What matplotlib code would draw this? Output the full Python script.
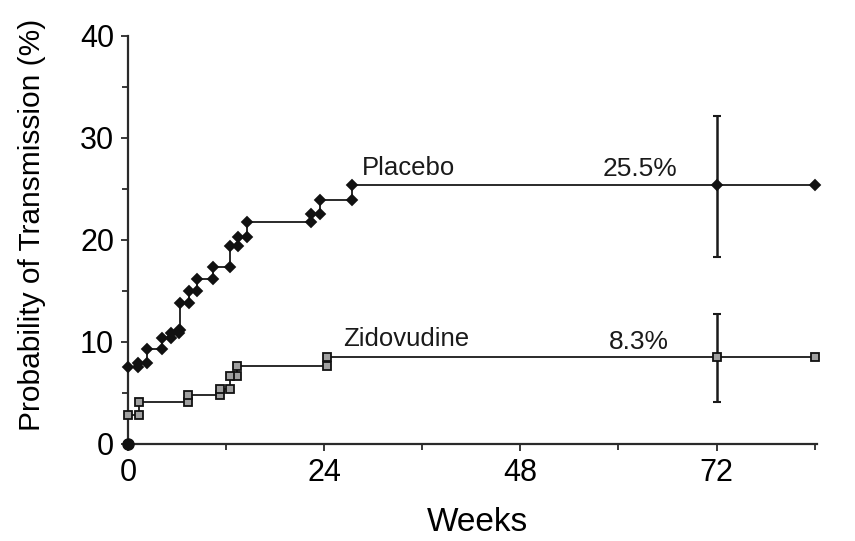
import matplotlib
matplotlib.use("Agg")
import matplotlib.pyplot as plt
from matplotlib.ticker import MultipleLocator, FixedLocator

plt.rcParams["font.family"] = ["Liberation Sans", "DejaVu Sans"]

# event times (weeks) and cumulative probability (%) right after each event
placebo_weeks = [0, 1.2, 2.3, 4.2, 5.3, 6.2, 6.4, 7.5, 8.4, 10.4, 12.5, 13.4, 14.5, 22.4, 23.5, 27.4]
placebo_prob = [7.5, 7.9, 9.3, 10.4, 10.9, 11.2, 13.8, 15.0, 16.2, 17.4, 19.4, 20.3, 21.8, 22.5, 23.9, 25.4]

zido_weeks = [0, 1.3, 7.4, 11.3, 12.5, 13.3, 24.3]
zido_prob = [2.8, 4.1, 4.8, 5.4, 6.7, 7.6, 8.5]

end_week = 84

# 95% CI at week 72
ci_week = 72
placebo_ci = [18.3, 32.2]
zido_ci = [4.1, 12.7]

placebo_label = "Placebo"
zido_label = "Zidovudine"
placebo_final = "25.5%"
zido_final = "8.3%"

line_col = "#2a2a2a"


def draw_curve(ax, weeks, prob, marker, ms, mfc):
    xs = [0] + weeks + [end_week]
    ys = [0] + prob + [prob[-1]]
    ax.step(xs, ys, where="post", color=line_col, lw=1.4, zorder=2, clip_on=False)
    # markers at both ends of each jump (origin gets its own dot)
    prev = [0] + prob[:-1]
    mx = weeks[1:] + weeks
    my = prev[1:] + prob
    ax.plot(mx, my, ls="none", marker=marker, ms=ms, mfc=mfc, mec="#111111",
            mew=1.3, zorder=3, clip_on=False)
    ax.plot([end_week, ci_week], [prob[-1], prob[-1]], ls="none", marker=marker, ms=ms,
            mfc=mfc, mec="#111111", mew=1.3, zorder=3, clip_on=False)


fig = plt.figure(figsize=(8.55, 5.41), dpi=100)
ax = fig.add_axes([0.1497, 0.1793, 0.8059, 0.7542])

draw_curve(ax, placebo_weeks, placebo_prob, "D", 5.2, "#111111")
draw_curve(ax, zido_weeks, zido_prob, "s", 6, "#a0a0a0")

ax.plot([0], [0], ls="none", marker="o", ms=8, color="#111111", zorder=4, clip_on=False)

for ci in (placebo_ci, zido_ci):
    ax.errorbar([ci_week], [(ci[0] + ci[1]) / 2], yerr=[[(ci[1] - ci[0]) / 2]],
                fmt="none", ecolor="#1a1a1a", elinewidth=1.8, capsize=3, capthick=1.5, zorder=2)

ax.text(28.6, 26.4, placebo_label, fontsize=18.5, va="baseline", ha="left", color="#1a1a1a")
ax.text(58.1, 26.3, placebo_final, fontsize=19, va="baseline", ha="left", color="#1a1a1a")
ax.text(26.3, 9.6, zido_label, fontsize=18.5, va="baseline", ha="left", color="#1a1a1a")
ax.text(58.8, 9.3, zido_final, fontsize=19, va="baseline", ha="left", color="#1a1a1a")

ax.set_xlim(0, 84.3)
ax.set_ylim(0, 40)
ax.xaxis.set_major_locator(FixedLocator([0, 24, 48, 72]))
ax.xaxis.set_minor_locator(FixedLocator([12, 36, 60, 84]))
ax.yaxis.set_major_locator(MultipleLocator(10))
ax.yaxis.set_minor_locator(MultipleLocator(5))

for side in ["top", "right"]:
    ax.spines[side].set_visible(False)
for side in ["left", "bottom"]:
    ax.spines[side].set_linewidth(1.6)
    ax.spines[side].set_color(line_col)

ax.tick_params(which="both", direction="out", color=line_col, width=1.3)
ax.tick_params(which="major", length=5, labelsize=22, pad=5)
ax.tick_params(which="minor", length=4)

ax.set_xlabel("Weeks", fontsize=24, va="top")
ax.xaxis.set_label_coords(0.5065, -0.155)
ax.set_ylabel("Probability of Transmission (%)", fontsize=21.5)
ax.yaxis.set_label_coords(-0.119, 0.537)

fig.savefig("out.png", dpi=100)
